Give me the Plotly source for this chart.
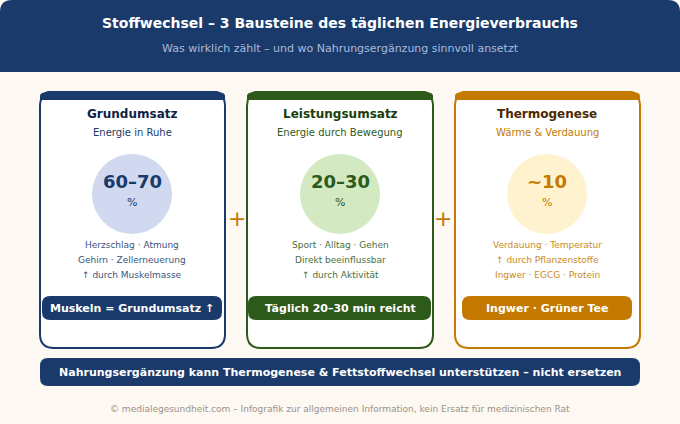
import plotly.graph_objects as go

title = "Stoffwechsel – 3 Bausteine des täglichen Energieverbrauchs"
subtitle = "Was wirklich zählt – und wo Nahrungsergänzung sinnvoll ansetzt"
names = ["Grundumsatz", "Leistungsumsatz", "Thermogenese"]
taglines = ["Energie in Ruhe", "Energie durch Bewegung", "Wärme & Verdauung"]
shares = ["60–70", "20–30", "~10"]
unit = "%"
details = [
    ["Herzschlag · Atmung", "Gehirn · Zellerneuerung", "↑ durch Muskelmasse"],
    ["Sport · Alltag · Gehen", "Direkt beeinflussbar", "↑ durch Aktivität"],
    ["Verdauung · Temperatur", "↑ durch Pflanzenstoffe", "Ingwer · EGCG · Protein"],
]
pills = ["Muskeln = Grundumsatz ↑", "Täglich 20–30 min reicht", "Ingwer · Grüner Tee"]
banner = "Nahrungsergänzung kann Thermogenese & Fettstoffwechsel unterstützen – nicht ersetzen"
footer = "© medialegesundheit.com – Infografik zur allgemeinen Information, kein Ersatz für medizinischen Rat"

main_colors = ["#1a3a6b", "#2d5a1b", "#c47a00"]
name_colors = ["#0f1f45", "#1a3d0a", "#4a2800"]
circle_colors = ["#d0d9f0", "#d2e9c2", "#fff2cf"]
bg = "#fdf8f2"
FONT = "DejaVu Sans"

card_x = [(40, 225), (247, 433), (455, 640)]
pill_x = [(42, 222), (248, 431), (462, 632)]
centers = [132, 340, 547]

shapes, ann = [], []


def rr(x0, y0, x1, y1, r):
    return (f"M{x0+r},{y0} L{x1-r},{y0} Q{x1},{y0} {x1},{y0+r} L{x1},{y1-r} Q{x1},{y1} {x1-r},{y1} "
            f"L{x0+r},{y1} Q{x0},{y1} {x0},{y1-r} L{x0},{y0+r} Q{x0},{y0} {x0+r},{y0} Z")


def path(d, fill, line=None, width=0):
    shapes.append(dict(type="path", path=d, fillcolor=fill, line=dict(color=line or fill, width=width),
                       xref="x", yref="y", layer="below"))


def text(x, y, s, size, color, bold=False, opacity=1):
    ann.append(dict(x=x, y=y, text=f"<b>{s}</b>" if bold else s, showarrow=False, xref="x", yref="y",
                    xanchor="center", yanchor="middle", opacity=opacity,
                    font=dict(family=FONT, size=size, color=color)))


# header
path("M0,12 Q0,0 12,0 L668,0 Q680,0 680,12 L680,72 L0,72 Z", "#1a3a6b")
text(340, 23, title, 14, "#ffffff", True)
text(340, 48, subtitle, 11, "#a9bbdc")

for i, (x0, x1) in enumerate(card_x):
    c = main_colors[i]
    path(rr(x0, 92, x1, 348, 14), "#ffffff", c, 2)
    path(f"M{x0},100 L{x0},96 Q{x0},93 {x0+4},92.5 L{x0+8},91 L{x1-8},91 L{x1-4},92.5 Q{x1},93 {x1},96 L{x1},100 Z", c)
    cx = centers[i]
    text(cx, 114, names[i], 12, name_colors[i], True)
    text(cx, 132.5, taglines[i], 10, c)
    shapes.append(dict(type="circle", x0=cx-40, x1=cx+40, y0=154, y1=234, fillcolor=circle_colors[i],
                       line=dict(width=0), xref="x", yref="y", layer="below"))
    text(cx, 181.5, shares[i], 18, c, True)
    text(cx, 202, unit, 11, c)
    for j, line in enumerate(details[i]):
        text(cx, 245 + j * 15, line, 9, c, opacity=0.88)
    px0, px1 = pill_x[i]
    path(rr(px0, 296, px1, 320, 8), c)
    text(cx, 308, pills[i], 11, "#ffffff", True)

for x in (236.5, 442.5):
    text(x, 218, "+", 22, "#c47a00")

path(rr(40, 358, 640, 386, 8), "#1a3a6b")
text(340, 372, banner, 11, "#ffffff", True)
text(340, 409, footer, 9, "#999289")

fig = go.Figure()
fig.update_layout(
    width=680, height=424, margin=dict(l=0, r=0, t=0, b=0), paper_bgcolor=bg, plot_bgcolor=bg,
    xaxis=dict(range=[0, 680], visible=False, fixedrange=True),
    yaxis=dict(range=[424, 0], visible=False, fixedrange=True),
    shapes=shapes, annotations=ann, showlegend=False,
)
fig.write_html("out.html", config=dict(displayModeBar=False),
               post_script="document.body.style.margin='0';document.body.style.overflow='hidden';")
